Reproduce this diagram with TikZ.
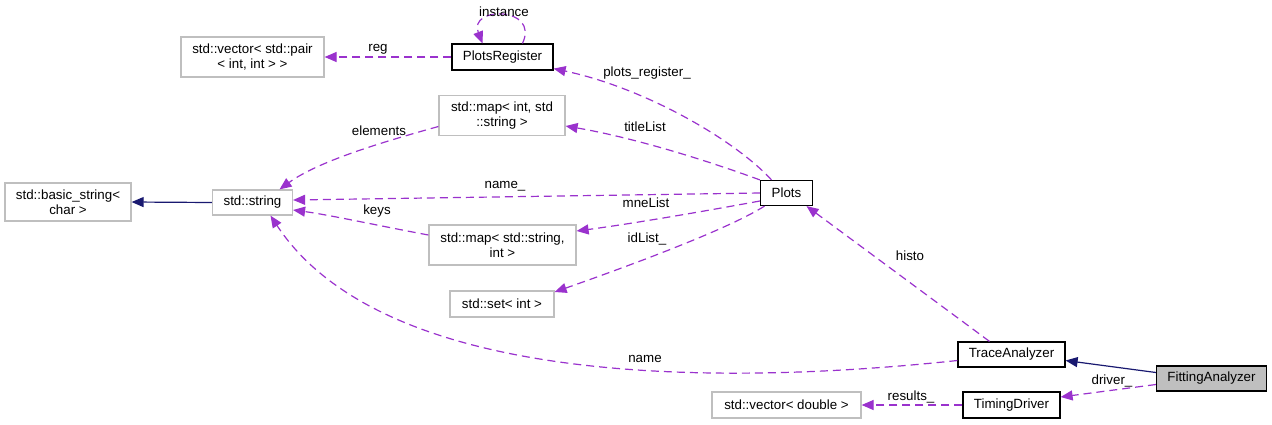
\documentclass[tikz,border=0pt]{standalone}
\usepackage{fontspec}
\setmainfont{Liberation Sans}
\usetikzlibrary{arrows.meta}
\definecolor{edgepurple}{HTML}{9A32CD}
\definecolor{inhblue}{HTML}{191970}
\definecolor{extgray}{HTML}{BFBFBF}
\begin{document}
\begin{tikzpicture}[x=1pt,y=-1pt,
  font=\fontsize{13.33}{15}\selectfont,
  box/.style={draw=black, line width=1.2pt, inner sep=0pt, align=center, fill=white},
  ext/.style={box, draw=extgray},
  dep/.style={draw=edgepurple, line width=1.2pt, dash pattern=on 8pt off 5pt,
              -{Triangle[length=12pt,width=10pt]}},
  inh/.style={draw=inhblue, line width=1.2pt, -{Triangle[length=12pt,width=10pt]}},
  lbl/.style={inner sep=0pt}]
\useasboundingbox (0,0) rectangle (1272,424);

% class boxes
\node[ext, minimum width=143pt, minimum height=40pt] (vecpair) at (252.5,57) {std::vector< std::pair\\< int, int > >};
\node[box, minimum width=101pt, minimum height=26pt] (preg) at (502.5,57) {PlotsRegister};
\node[ext, minimum width=126pt, minimum height=40pt] (map1) at (502,115.5) {std::map< int, std\\::string >};
\node[ext, minimum width=126pt, minimum height=38pt] (basic) at (68,202) {std::basic\_string<\\char >};
\node[ext, minimum width=80pt, minimum height=25pt] (str) at (252.5,202.5) {std::string};
\node[box, minimum width=52pt, minimum height=25pt] (plots) at (786.5,193) {Plots};
\node[ext, minimum width=147pt, minimum height=40pt] (map2) at (502.5,245) {std::map< std::string,\\int >};
\node[ext, minimum width=104pt, minimum height=26pt] (set) at (502,304) {std::set< int >};
\node[box, minimum width=107pt, minimum height=25pt] (trace) at (1011.5,354.5) {TraceAnalyzer};
\node[box, fill=extgray, minimum width=110pt, minimum height=25pt] (fit) at (1211.5,378.5) {FittingAnalyzer};
\node[box, minimum width=97pt, minimum height=26pt] (timing) at (1011.5,405) {TimingDriver};
\node[ext, minimum width=149pt, minimum height=26pt] (vecd) at (786.5,405) {std::vector< double >};

% usage relations
\draw[dep] (preg.west) -- (vecpair.east);
\node[lbl] (lreg) at (378,49) {reg};

\draw[dep] ([xshift=20pt]preg.north) .. controls (540,6) and (468,6) .. ([xshift=-20pt]preg.north);
\node[lbl] (linst) at (504,12) {instance};

\draw[dep] ([xshift=-15pt]plots.north) .. controls (735,140) and (645,88) .. ([yshift=2pt]preg.south east);
\node[lbl] (lpreg) at (647,73) {plots\_register\_};

\draw[dep] (plots.north west) .. controls (700,158) and (630,137) .. ([yshift=-10.5pt]map1.east);
\node[lbl] (ltitle) at (645,127) {titleList};

\draw[dep] (plots.west) -- ([yshift=2.5pt]str.east);
\node[lbl] (lname_) at (505,186) {name\_};

\draw[dep] ([yshift=-8pt]plots.west) .. controls (700,212) and (630,224) .. ([yshift=14pt]map2.east);
\node[lbl] (lmne) at (646,203) {mneList};

\draw[dep] ([xshift=-22pt]plots.south) .. controls (730,228) and (640,262) .. ([yshift=12pt]set.east);
\node[lbl] (lid) at (647,239) {idList\_};

\draw[dep] ([yshift=-11pt]map1.west) .. controls (390,140) and (320,160) .. ([xshift=27pt]str.north);
\node[lbl] (lelem) at (379,131) {elements};

\draw[dep] ([yshift=10pt]map2.west) .. controls (380,226) and (330,215) .. ([yshift=-7.5pt]str.east);
\node[lbl] (lkeys) at (377,211) {keys};

\draw[dep] ([yshift=-6pt]trace.west) .. controls (700,388) and (380,382) .. ([xshift=18pt]str.south);
\node[lbl] (lname) at (645,359) {name};

\draw[dep] ([xshift=-22pt]trace.north) -- ([xshift=20pt]plots.south);
\node[lbl] (lhisto) at (910,256) {histo};

\draw[dep] ([yshift=-6pt]fit.west) -- ([yshift=8pt]timing.east);
\node[lbl] (ldriver) at (1112,381) {driver\_};

\draw[dep] (timing.west) -- (vecd.east);
\node[lbl] (lres) at (911,397) {results\_};

% inheritance
\draw[inh] ([yshift=6pt]fit.west) -- ([yshift=-6pt]trace.east);
\draw[inh] (str.west) -- (basic.east);
\end{tikzpicture}
\end{document}
